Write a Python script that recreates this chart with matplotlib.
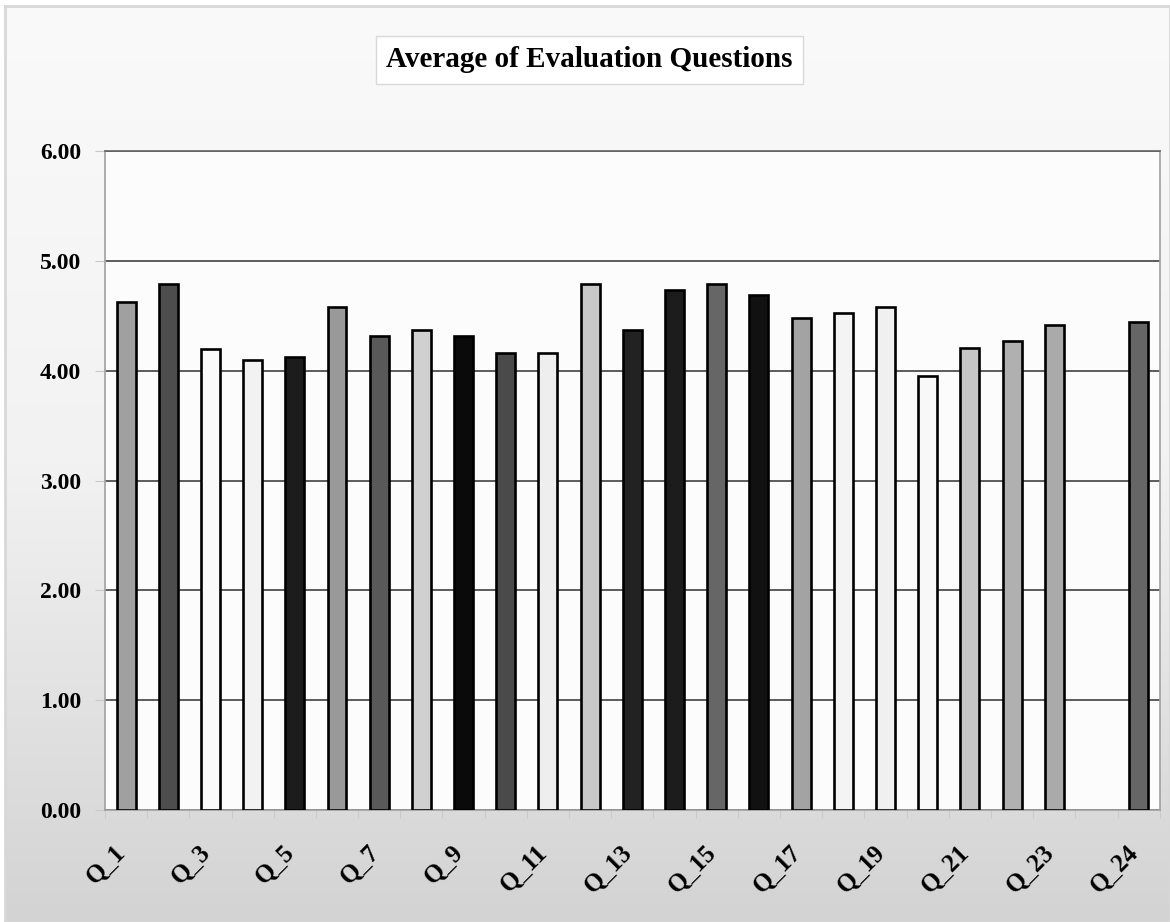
import numpy as np
import matplotlib.pyplot as plt
from matplotlib.transforms import ScaledTranslation

# Data (slot 24 is empty in the original)
questions = ["Q_1", "Q_2", "Q_3", "Q_4", "Q_5", "Q_6", "Q_7", "Q_8", "Q_9", "Q_10",
             "Q_11", "Q_12", "Q_13", "Q_14", "Q_15", "Q_16", "Q_17", "Q_18", "Q_19",
             "Q_20", "Q_21", "Q_22", "Q_23", "", "Q_24"]
averages = [4.63, 4.79, 4.20, 4.10, 4.13, 4.58, 4.32, 4.37, 4.32, 4.16,
            4.16, 4.79, 4.37, 4.74, 4.79, 4.69, 4.48, 4.53, 4.58,
            3.95, 4.21, 4.27, 4.42, np.nan, 4.44]
bar_colors = ["#a0a0a0", "#4d4d4d", "#fafafa", "#f2f2f2", "#1c1c1c", "#999999",
              "#595959", "#d0d0d0", "#0a0a0a", "#4a4a4a", "#eeeeee", "#c8c8c8",
              "#222222", "#1c1c1c", "#666666", "#111111", "#a3a3a3", "#f4f4f4",
              "#f0f0f0", "#f8f8f8", "#c6c6c6", "#b0b0b0", "#aaaaaa", "#ffffff",
              "#666666"]

plt.rcParams["font.family"] = ["Liberation Serif", "DejaVu Serif"]

fig = plt.figure(figsize=(11.7, 9.22), dpi=100)

# Background gradient panel with thin border
bg = fig.add_axes([0.004, 0.0, 0.996, 0.994], zorder=0)
grad = np.linspace(0, 1, 256).reshape(-1, 1)
bg.imshow(grad, aspect="auto", cmap=plt.matplotlib.colors.LinearSegmentedColormap.from_list(
    "g", ["#fafafa", "#f2f2f2", "#d3d3d3"]), extent=[0, 1, 0, 1], origin="upper")
bg.set_xlim(0, 1)
bg.set_ylim(0, 1)
bg.set_xticks([])
bg.set_yticks([])
for s in bg.spines.values():
    s.set_color("#d8d8d8")
    s.set_linewidth(2)

ax = fig.add_axes([0.0897, 0.1215, 0.9015, 0.7145], zorder=1)
ax.set_facecolor("#fcfcfc")
x = np.arange(len(questions))
ax.bar(x, averages, width=0.45, color=bar_colors, edgecolor="black",
       linewidth=1.9, zorder=3)

ax.set_xlim(-0.5, len(questions) - 0.5)
ax.set_ylim(0, 6)
ax.set_yticks(np.arange(0, 7, 1))
ax.set_yticklabels([f"{v:.2f}" for v in np.arange(0, 7, 1)],
                   fontsize=17, fontweight="bold")
ax.yaxis.grid(True, color="#505050", linewidth=1.3, zorder=1)
ax.set_axisbelow(True)

ax.set_xticks(x[::2])
ax.set_xticklabels(questions[::2], rotation=45, ha="right",
                   rotation_mode="anchor", fontsize=18, fontweight="bold")
ax.set_xticks(np.arange(-0.5, len(questions), 1), minor=True)
ax.tick_params(axis="x", which="major", length=0, pad=22)
ax.tick_params(axis="x", which="minor", length=6, color="#c8c8c8")
ax.tick_params(axis="y", length=7, color="#c8c8c8", pad=10)

# nudge the rotated labels left, like the original
shift = ScaledTranslation(-12 / 100, 0, fig.dpi_scale_trans)
for lbl in ax.get_xticklabels():
    lbl.set_transform(lbl.get_transform() + shift)

for name, s in ax.spines.items():
    s.set_color("#a0a0a0")
    s.set_linewidth(1.2)
ax.spines["top"].set_color("#666666")

fig.text(0.504, 0.935, "Average of Evaluation Questions", ha="center", va="center",
         fontsize=21, fontweight="bold",
         bbox=dict(boxstyle="square,pad=0.35", facecolor="white",
                   edgecolor="#d8d8d8", linewidth=1))

fig.savefig("out.png", dpi=100)
